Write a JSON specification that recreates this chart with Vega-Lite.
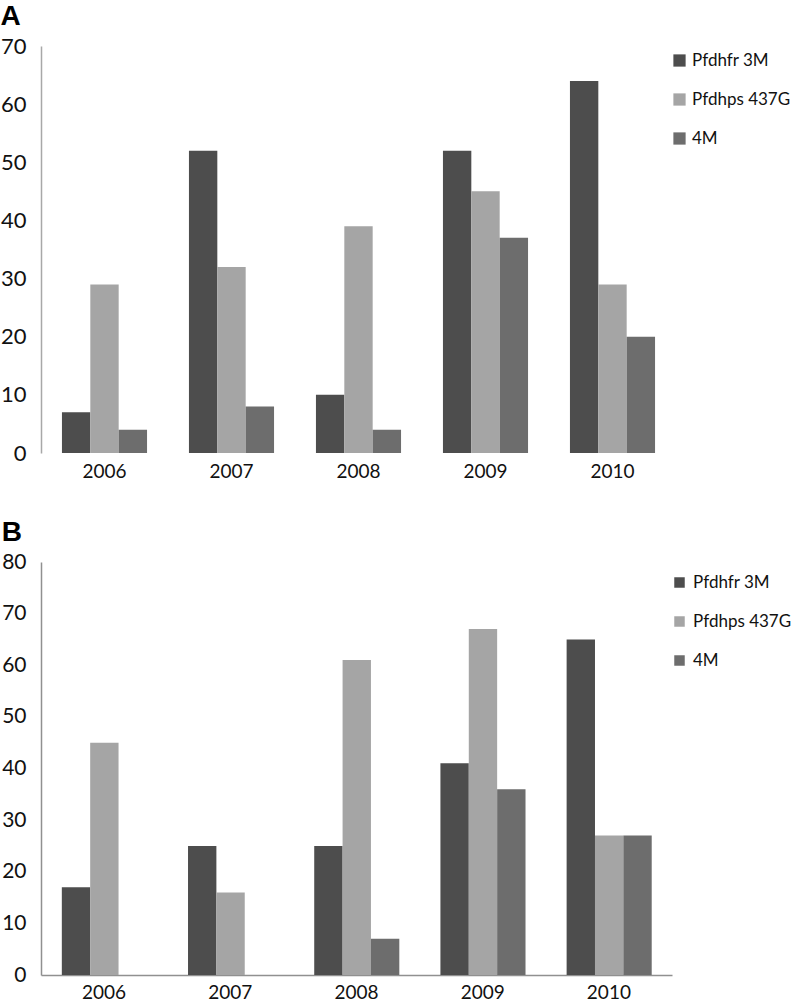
{
  "$schema": "https://vega.github.io/schema/vega-lite/v6.json",
  "padding": {"left": 0, "top": 3, "right": 0, "bottom": 0},
  "background": "white",
  "spacing": 38,
  "config": {
    "view": {"stroke": null},
    "font": "Lato",
    "axis": {"labelFont": "Lato", "labelColor": "#111", "grid": false, "ticks": false, "title": null},
    "title": {"font": "Liberation Sans", "fontWeight": "bold", "fontSize": 28, "anchor": "start", "frame": "bounds", "color": "#000"}
  },
  "datasets": {
    "a": [
      {"year": "2006", "marker": "Pfdhfr 3M", "value": 7},
      {"year": "2006", "marker": "Pfdhps 437G", "value": 29},
      {"year": "2006", "marker": "4M", "value": 4},
      {"year": "2007", "marker": "Pfdhfr 3M", "value": 52},
      {"year": "2007", "marker": "Pfdhps 437G", "value": 32},
      {"year": "2007", "marker": "4M", "value": 8},
      {"year": "2008", "marker": "Pfdhfr 3M", "value": 10},
      {"year": "2008", "marker": "Pfdhps 437G", "value": 39},
      {"year": "2008", "marker": "4M", "value": 4},
      {"year": "2009", "marker": "Pfdhfr 3M", "value": 52},
      {"year": "2009", "marker": "Pfdhps 437G", "value": 45},
      {"year": "2009", "marker": "4M", "value": 37},
      {"year": "2010", "marker": "Pfdhfr 3M", "value": 64},
      {"year": "2010", "marker": "Pfdhps 437G", "value": 29},
      {"year": "2010", "marker": "4M", "value": 20}
    ],
    "b": [
      {"year": "2006", "marker": "Pfdhfr 3M", "value": 17},
      {"year": "2006", "marker": "Pfdhps 437G", "value": 45},
      {"year": "2006", "marker": "4M", "value": 0},
      {"year": "2007", "marker": "Pfdhfr 3M", "value": 25},
      {"year": "2007", "marker": "Pfdhps 437G", "value": 16},
      {"year": "2007", "marker": "4M", "value": 0},
      {"year": "2008", "marker": "Pfdhfr 3M", "value": 25},
      {"year": "2008", "marker": "Pfdhps 437G", "value": 61},
      {"year": "2008", "marker": "4M", "value": 7},
      {"year": "2009", "marker": "Pfdhfr 3M", "value": 41},
      {"year": "2009", "marker": "Pfdhps 437G", "value": 67},
      {"year": "2009", "marker": "4M", "value": 36},
      {"year": "2010", "marker": "Pfdhfr 3M", "value": 65},
      {"year": "2010", "marker": "Pfdhps 437G", "value": 27},
      {"year": "2010", "marker": "4M", "value": 27}
    ]
  },
  "vconcat": [
    {
      "title": {"text": "A"},
      "data": {"name": "a"},
      "width": 635,
      "height": 407,
      "mark": {"type": "bar", "strokeWidth": 0},
      "encoding": {
        "x": {"field": "year", "type": "nominal", "scale": {"paddingInner": 0.33, "paddingOuter": 0.165},
              "axis": {"labelAngle": 0, "labelFontSize": 19, "labelPadding": 9, "domain": false}},
        "xOffset": {"field": "marker", "type": "nominal", "sort": ["Pfdhfr 3M", "Pfdhps 437G", "4M"]},
        "y": {"field": "value", "type": "quantitative", "scale": {"domain": [0, 70], "nice": false},
              "axis": {"values": [0, 10, 20, 30, 40, 50, 60, 70], "labelFontSize": 22, "labelPadding": 15, "domainColor": "#a8a8a8", "domainWidth": 1.5}},
        "color": {"field": "marker", "type": "nominal", "sort": ["Pfdhfr 3M", "Pfdhps 437G", "4M"],
                  "scale": {"domain": ["Pfdhfr 3M", "Pfdhps 437G", "4M"], "range": ["#4d4d4d", "#a5a5a5", "#6d6d6d"]},
                  "legend": {"title": null, "orient": "none", "legendX": 630, "legendY": 6, "symbolType": "square", "symbolSize": 150, "symbolStrokeWidth": 0, "labelFontSize": 17, "labelFont": "Lato", "labelColor": "#111", "rowPadding": 21, "labelOffset": 4}}
      }
    },
    {
      "title": {"text": "B"},
      "data": {"name": "b"},
      "width": 631,
      "height": 413,
      "mark": {"type": "bar", "strokeWidth": 0},
      "encoding": {
        "x": {"field": "year", "type": "nominal", "scale": {"paddingInner": 0.33, "paddingOuter": 0.165},
              "axis": {"labelAngle": 0, "labelFontSize": 19, "labelPadding": 8, "domainColor": "#909090", "domainWidth": 1.5}},
        "xOffset": {"field": "marker", "type": "nominal", "sort": ["Pfdhfr 3M", "Pfdhps 437G", "4M"]},
        "y": {"field": "value", "type": "quantitative", "scale": {"domain": [0, 80], "nice": false},
              "axis": {"values": [0, 10, 20, 30, 40, 50, 60, 70, 80], "labelFontSize": 21, "labelPadding": 15, "domainColor": "#909090", "domainWidth": 1.5}},
        "color": {"field": "marker", "type": "nominal", "sort": ["Pfdhfr 3M", "Pfdhps 437G", "4M"],
                  "scale": {"domain": ["Pfdhfr 3M", "Pfdhps 437G", "4M"], "range": ["#4d4d4d", "#a5a5a5", "#6d6d6d"]},
                  "legend": {"title": null, "orient": "none", "legendX": 630, "legendY": 12, "symbolType": "square", "symbolSize": 110, "symbolStrokeWidth": 0, "labelFontSize": 17, "labelFont": "Lato", "labelColor": "#111", "rowPadding": 21, "labelOffset": 5}}
      }
    }
  ],
  "resolve": {"legend": {"color": "independent"}}
}
